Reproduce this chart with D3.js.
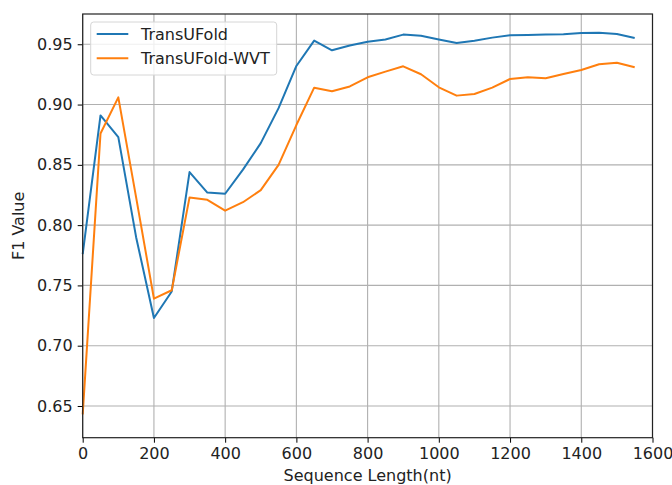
<!DOCTYPE html>
<html lang="en">
	<head>
		<meta charset="utf-8">
		<title>F1 vs sequence length</title>
		<script src="https://d3js.org/d3.v7.min.js"></script>
		<style>
			body { margin: 0; background: #fff; }
			text { font-family: "DejaVu Sans", sans-serif; fill: #222; }
		</style>
	</head>

	<body>
		<script type="text/javascript">

			// data
			var seqLength = [0, 50, 100, 150, 200, 250, 300, 350, 400, 450, 500, 550, 600, 650, 700, 750,
							800, 850, 900, 950, 1000, 1050, 1100, 1150, 1200, 1250, 1300, 1350, 1400, 1450, 1500, 1550]

			var transUFold = [0.776, 0.891, 0.873, 0.790, 0.723, 0.745, 0.844, 0.827, 0.826, 0.846, 0.868, 0.897,
							0.932, 0.953, 0.945, 0.949, 0.952, 0.954, 0.958, 0.957, 0.954, 0.951, 0.953, 0.9555,
							0.9575, 0.9577, 0.958, 0.9583, 0.9594, 0.9596, 0.9585, 0.9552]

			var transUFoldWVT = [0.643, 0.876, 0.906, 0.823, 0.739, 0.746, 0.823, 0.821, 0.812, 0.819, 0.829, 0.850,
							0.883, 0.914, 0.911, 0.915, 0.9226, 0.9273, 0.9317, 0.9251, 0.9143, 0.9074, 0.9088, 0.914,
							0.9212, 0.9226, 0.9218, 0.9254, 0.9287, 0.9334, 0.9347, 0.9309]

			var seriesNames = ["TransUFold", "TransUFold-WVT"]
			var seriesColors = ["#1f77b4", "#ff7f0e"]
			var xTicks = [0, 200, 400, 600, 800, 1000, 1200, 1400, 1600]
			var yTicks = [0.65, 0.70, 0.75, 0.80, 0.85, 0.90, 0.95]

			// window setup
			var w = 672
			var h = 485
			var margin = {top: 14, right: 19.5, bottom: 47.3, left: 82.7}
			var iw = w - margin.left - margin.right
			var ih = h - margin.top - margin.bottom

			var svg = d3.select("body")
						.append("svg")
						.attr("width", w)
						.attr("height", h)

			var g = svg.append("g")
						.attr("transform", "translate(" + margin.left + "," + margin.top + ")")

			// scales
			var xScale = d3.scaleLinear()
							.domain([0, 1600])
							.range([0, iw])

			var yScale = d3.scaleLinear()
							.domain([0.6237, 0.9751])
							.range([ih, 0])

			// grid
			g.selectAll(".gx")
				.data(xTicks)
				.enter()
				.append("line")
				.attr("x1", function(d){ return xScale(d) })
				.attr("x2", function(d){ return xScale(d) })
				.attr("y1", 0)
				.attr("y2", ih)
				.attr("stroke", "#b0b0b0")
				.attr("stroke-width", 1.1)

			g.selectAll(".gy")
				.data(yTicks)
				.enter()
				.append("line")
				.attr("x1", 0)
				.attr("x2", iw)
				.attr("y1", function(d){ return yScale(d) })
				.attr("y2", function(d){ return yScale(d) })
				.attr("stroke", "#b0b0b0")
				.attr("stroke-width", 1.1)

			// lines
			var allSeries = [transUFold, transUFoldWVT]
			var line = d3.line()
						.x(function(d, i){ return xScale(seqLength[i]) })
						.y(function(d){ return yScale(d) })

			g.selectAll(".series")
				.data(allSeries)
				.enter()
				.append("path")
				.attr("d", line)
				.attr("fill", "none")
				.attr("stroke", function(d, i){ return seriesColors[i] })
				.attr("stroke-width", 2)
				.attr("stroke-linejoin", "round")

			// axes
			var xAxis = d3.axisBottom(xScale)
							.tickValues(xTicks)
							.tickSize(5)
							.tickPadding(5)
							.tickFormat(d3.format("d"))

			var yAxis = d3.axisLeft(yScale)
							.tickValues(yTicks)
							.tickSize(5)
							.tickPadding(5)
							.tickFormat(d3.format(".2f"))

			g.append("g")
				.attr("transform", "translate(0," + ih + ")")
				.call(xAxis)
				.call(function(a){ a.select(".domain").remove() })
				.selectAll("text")
				.style("font-size", "16px")
				.attr("fill", "#222")

			g.append("g")
				.call(yAxis)
				.call(function(a){ a.select(".domain").remove() })
				.selectAll("text")
				.style("font-size", "16px")
				.attr("fill", "#222")

			// frame
			g.append("rect")
				.attr("width", iw)
				.attr("height", ih)
				.attr("fill", "none")
				.attr("stroke", "#222")
				.attr("stroke-width", 1.2)

			// axis labels
			svg.append("text")
				.attr("x", margin.left + iw / 2)
				.attr("y", 480.5)
				.attr("text-anchor", "middle")
				.style("font-size", "16px")
				.text("Sequence Length(nt)")

			svg.append("text")
				.attr("transform", "translate(24," + (margin.top + ih / 2) + ") rotate(-90)")
				.attr("text-anchor", "middle")
				.style("font-size", "16px")
				.text("F1 Value")

			// legend
			var legend = svg.append("g")
							.attr("transform", "translate(90.7,22)")

			legend.append("rect")
				.attr("width", 186)
				.attr("height", 53)
				.attr("rx", 3)
				.attr("fill", "#fff")
				.attr("fill-opacity", 0.8)
				.attr("stroke", "#d6d6d6")

			var items = legend.selectAll(".item")
							.data(seriesNames)
							.enter()
							.append("g")
							.attr("transform", function(d, i){ return "translate(0," + (12 + i * 24.3) + ")" })

			items.append("line")
				.attr("x1", 6)
				.attr("x2", 37.6)
				.attr("stroke", function(d, i){ return seriesColors[i] })
				.attr("stroke-width", 2)

			items.append("text")
				.attr("x", 50.3)
				.attr("dy", "0.35em")
				.style("font-size", "16px")
				.text(function(d){ return d })

		</script>

	</body>
</html>
